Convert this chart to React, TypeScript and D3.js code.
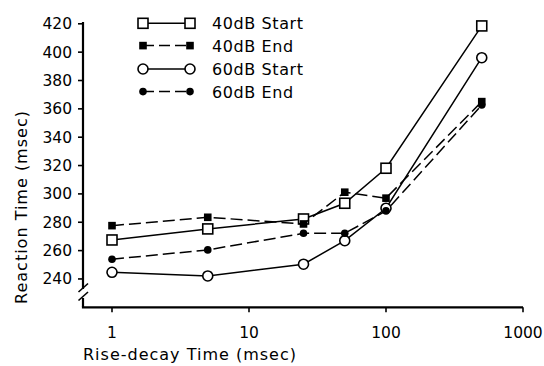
import React from "react";
import * as d3 from "d3";

const riseDecay = [1, 5, 25, 50, 100, 500];
const start40 = [267.5, 275.3, 282.3, 293.4, 318.1, 418.5];
const end40 = [277.6, 283.5, 278.8, 301.2, 297, 365.1];
const start60 = [244.7, 242.1, 250.4, 267, 289.9, 396.1];
const end60 = [253.9, 260.5, 272.2, 272.2, 288, 362.7];
const yTicks = [240, 260, 280, 300, 320, 340, 360, 380, 400, 420];
const xTicks = [1, 10, 100, 1000];
const legendLabels = ["40dB Start", "40dB End", "60dB Start", "60dB End"];

type Marker = "openSquare" | "filledSquare" | "openCircle" | "filledCircle";
const seriesList: { values: number[]; dashed: boolean; marker: Marker; label: string }[] = [
  { values: start40, dashed: false, marker: "openSquare", label: legendLabels[0] },
  { values: end40, dashed: true, marker: "filledSquare", label: legendLabels[1] },
  { values: start60, dashed: false, marker: "openCircle", label: legendLabels[2] },
  { values: end60, dashed: true, marker: "filledCircle", label: legendLabels[3] },
];

const FONT = "'DejaVu Sans', sans-serif";

function MarkerShape({ type, x, y }: { type: Marker; x: number; y: number }) {
  switch (type) {
    case "openSquare":
      return <rect x={x - 5} y={y - 5} width={10} height={10} fill="#fff" stroke="#000" strokeWidth={1.6} />;
    case "filledSquare":
      return <rect x={x - 3.8} y={y - 3.8} width={7.6} height={7.6} fill="#000" />;
    case "openCircle":
      return <circle cx={x} cy={y} r={5} fill="#fff" stroke="#000" strokeWidth={1.6} />;
    default:
      return <circle cx={x} cy={y} r={3.8} fill="#000" />;
  }
}

export default function App() {
  const W = 544;
  const H = 366;
  const axisX = 83;
  const axisY = 307.3;
  const x = d3.scaleLog().domain([1, 1000]).range([112, 523]);
  const y = d3.scaleLinear().domain([220, 420]).range([307.3, 23.8]);

  const line = d3
    .line<number>()
    .x((_, i) => x(riseDecay[i]))
    .y((d) => y(d));

  const legendRows = [23.3, 45.6, 69, 91.6];

  return (
    <svg width={W} height={H} style={{ position: "absolute", left: 0, top: 0, background: "#fff" }}>
      <rect width={W} height={H} fill="#fff" />
      {/* Y axis with break */}
      <line x1={axisX} y1={22} x2={axisX} y2={289} stroke="#000" strokeWidth={2.2} />
      <line x1={axisX} y1={298} x2={axisX} y2={axisY} stroke="#000" strokeWidth={2.2} />
      <line x1={78.5} y1={292} x2={88} y2={283.5} stroke="#000" strokeWidth={1.6} />
      <line x1={78.5} y1={300.5} x2={88} y2={292} stroke="#000" strokeWidth={1.6} />
      {/* X axis */}
      <line x1={axisX - 1.1} y1={axisY} x2={x(1000)} y2={axisY} stroke="#000" strokeWidth={2.2} />
      {yTicks.map((t) => (
        <g key={t}>
          <line x1={axisX - 5} y1={y(t)} x2={axisX} y2={y(t)} stroke="#000" strokeWidth={1.6} />
          <text x={72} y={y(t) + 5.5} textAnchor="end" fontFamily={FONT} fontSize={15.5} fill="#000">
            {t}
          </text>
        </g>
      ))}
      {xTicks.map((t) => (
        <g key={t}>
          <line x1={x(t)} y1={axisY} x2={x(t)} y2={axisY + 5} stroke="#000" strokeWidth={1.6} />
          <text x={x(t)} y={338} textAnchor="middle" fontFamily={FONT} fontSize={15.5} fill="#000">
            {t}
          </text>
        </g>
      ))}
      <text x={83} y={360} fontFamily={FONT} fontSize={16} letterSpacing={1} fill="#000">
        Rise-decay Time (msec)
      </text>
      <text
        transform="translate(27,207) rotate(-90)"
        textAnchor="middle"
        fontFamily={FONT}
        fontSize={16}
        letterSpacing={1}
        fill="#000"
      >
        Reaction Time (msec)
      </text>

      {/* Series */}
      {seriesList.map((s, si) => (
        <g key={si}>
          <path
            d={line(s.values) || ""}
            fill="none"
            stroke="#000"
            strokeWidth={1.5}
            strokeDasharray={s.dashed ? "12,5" : undefined}
          />
          {s.values.map((v, i) => (
            <MarkerShape key={i} type={s.marker} x={x(riseDecay[i])} y={y(v)} />
          ))}
        </g>
      ))}

      {/* Legend */}
      {seriesList.map((s, si) => (
        <g key={si}>
          <line
            x1={143}
            y1={legendRows[si]}
            x2={190}
            y2={legendRows[si]}
            stroke="#000"
            strokeWidth={1.5}
            strokeDasharray={s.dashed ? "11,5" : undefined}
          />
          <MarkerShape type={s.marker} x={143} y={legendRows[si]} />
          <MarkerShape type={s.marker} x={190} y={legendRows[si]} />
          <text x={212} y={legendRows[si] + 6} fontFamily={FONT} fontSize={16} letterSpacing={0.6} fill="#000">
            {s.label}
          </text>
        </g>
      ))}
    </svg>
  );
}
